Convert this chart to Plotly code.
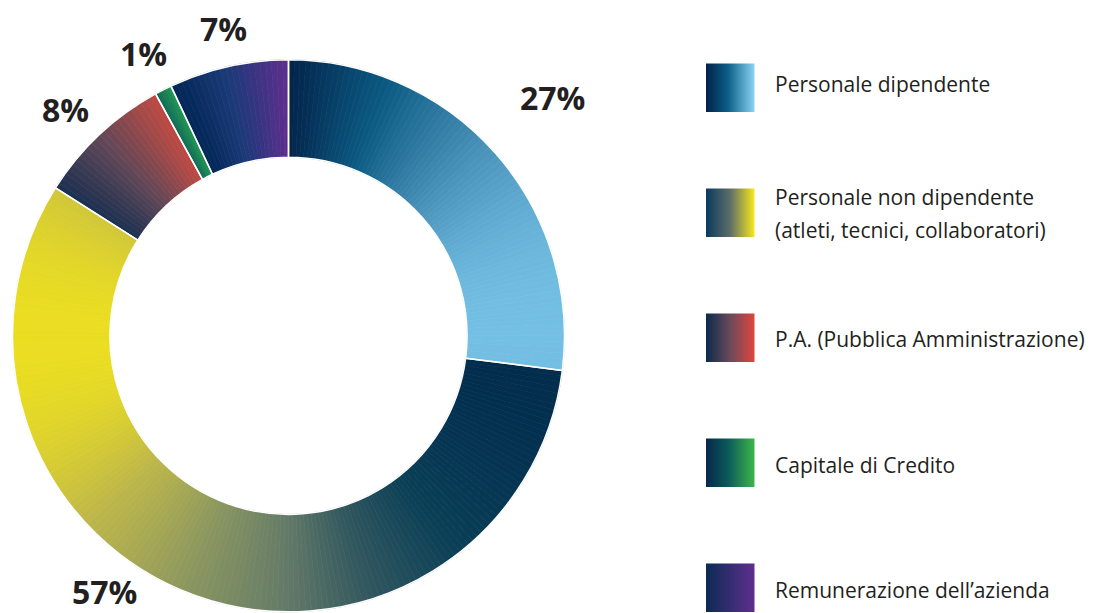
import math
import plotly.graph_objects as go

# ---------------- data ----------------
categories = [
    "Personale dipendente",
    "Personale non dipendente (atleti, tecnici, collaboratori)",
    "P.A. (Pubblica Amministrazione)",
    "Capitale di Credito",
    "Remunerazione dell’azienda",
]
legend_lines = [
    ["Personale dipendente"],
    ["Personale non dipendente", "(atleti, tecnici, collaboratori)"],
    ["P.A. (Pubblica Amministrazione)"],
    ["Capitale di Credito"],
    ["Remunerazione dell’azienda"],
]
values = [27, 57, 8, 1, 7]
pct_labels = ["27%", "57%", "8%", "1%", "7%"]

# ---------------- styles ----------------
ring_scales = [
    [(0, "#03234a"), (0.3, "#0b5a82"), (0.6, "#4a93bb"), (0.88, "#7ecbee"), (1, "#8ed8f6")],
    [(0, "#fff200"), (0.09, "#eadd22"), (0.2, "#bdb64a"), (0.35, "#8a9660"),
     (0.5, "#637a68"), (0.62, "#33585f"), (0.76, "#0a3f56"), (0.89, "#033050"), (1, "#02213f")],
    [(0, "#032a4e"), (0.2, "#03284d"), (0.5, "#5c4658"), (0.75, "#a84a48"), (1, "#e8443a")],
    [(0, "#03284d"), (0.3, "#054a58"), (0.65, "#1f9a50"), (1, "#3db64a")],
    [(0, "#032550"), (0.25, "#06295c"), (0.55, "#1b3a78"), (1, "#5e2f8e")],
]
legend_scales = [
    [(0, "#01214a"), (0.45, "#0b5f88"), (1, "#8ad4f3")],
    [(0, "#0a3a5f"), (0.5, "#5e6e68"), (1, "#f7e81c")],
    [(0, "#0b2a4c"), (0.5, "#6b4a5a"), (1, "#e0453d")],
    [(0, "#06284a"), (0.45, "#0b5a5a"), (1, "#3db54a")],
    [(0, "#0b2a55"), (1, "#5f2f8e")],
]
TEXT = "#231f20"
FONT = "Open Sans"

W, H = 1095, 613
OFF = 8  # page body margin: figure origin sits 8px inside the window
cx, cy, R = 288.5 - OFF, 335.8 - OFF, 276.0
hole = 0.647


def hex2rgb(h):
    h = h.lstrip("#")
    return tuple(int(h[i:i + 2], 16) for i in (0, 2, 4))


def interp(scale, t):
    t = min(max(t, 0.0), 1.0)
    for (p0, c0), (p1, c1) in zip(scale[:-1], scale[1:]):
        if p0 <= t <= p1:
            f = 0 if p1 == p0 else (t - p0) / (p1 - p0)
            a, b = hex2rgb(c0), hex2rgb(c1)
            return "rgb(%d,%d,%d)" % tuple(round(a[i] + (b[i] - a[i]) * f) for i in range(3))
    return "rgb(%d,%d,%d)" % hex2rgb(scale[-1][1])


# gradient approximation: split each slice into thin sub-slices whose colour
# follows a horizontal gradient across the slice's bounding box
total = sum(values)
rm = (1 + hole) / 2
sub_vals, sub_cols, sub_labels = [], [], []
cum = 0
for i, (v, scale) in enumerate(zip(values, ring_scales)):
    a0 = cum / total * 2 * math.pi
    a1 = (cum + v) / total * 2 * math.pi
    xs = []
    for k in range(301):
        a = a0 + (a1 - a0) * k / 300
        for r in (hole, 1.0):
            xs.append(r * math.sin(a))
    xmin, xmax = min(xs), max(xs)
    n = max(14, int(round(v * 3)))
    for j in range(n):
        am = a0 + (a1 - a0) * (j + 0.5) / n
        t = (rm * math.sin(am) - xmin) / (xmax - xmin)
        sub_vals.append(v / n)
        sub_cols.append(interp(scale, t))
        sub_labels.append("s%d_%d" % (i, j))
    cum += v

domain = dict(x=[(cx - R) / W, (cx + R) / W], y=[(H - cy - R) / H, (H - cy + R) / H])

fig = go.Figure()
fig.add_trace(go.Pie(
    labels=sub_labels, values=sub_vals, sort=False, direction="clockwise", rotation=0,
    hole=hole, domain=domain, textinfo="none", hoverinfo="skip", showlegend=False,
    marker=dict(colors=sub_cols, line=dict(color=sub_cols, width=0.7)),
))
fig.add_trace(go.Pie(
    labels=categories, values=values, sort=False, direction="clockwise", rotation=0,
    hole=hole, domain=domain, textinfo="none", showlegend=False,
    marker=dict(colors=["rgba(0,0,0,0)"] * len(values), line=dict(color="white", width=1.5)),
))

# legend swatches (gradient rectangles)
sw_x0, sw_size = 706 - OFF, 48.5
sw_tops = [t - OFF for t in (63.5, 188.5, 313.5, 438.5, 563.5)]
for top, scale in zip(sw_tops, legend_scales):
    fig.add_trace(go.Scatter(
        x=[sw_x0, sw_x0 + sw_size, sw_x0 + sw_size, sw_x0, sw_x0],
        y=[top, top, top + sw_size, top + sw_size, top],
        mode="lines", fill="toself", line=dict(width=0),
        fillgradient=dict(type="horizontal", colorscale=[[p, c] for p, c in scale]),
        hoverinfo="skip", showlegend=False, xaxis="x", yaxis="y",
    ))

annotations = []
# legend texts
legend_text_y = [[84], [197, 229.5], [338.5], [465], [590]]
for lines, ys in zip(legend_lines, legend_text_y):
    for txt, yy in zip(lines, ys):
        annotations.append(dict(
            x=773 - OFF, y=yy - OFF, xref="x", yref="y", text=txt, showarrow=False,
            xanchor="left", yanchor="middle",
            font=dict(family=FONT, size=21, color=TEXT),
        ))

# percentage labels
label_pos = [(552, 97), (104, 591), (65, 109), (143, 53), (223, 28)]
for txt, (lx, ly) in zip(pct_labels, label_pos):
    annotations.append(dict(
        x=lx - OFF, y=ly - OFF, xref="x", yref="y", text=txt, showarrow=False,
        xanchor="center", yanchor="middle",
        font=dict(family=FONT, size=32, color=TEXT, weight=700),
    ))

fig.update_layout(
    width=W, height=H, autosize=False,
    margin=dict(l=0, r=0, t=0, b=0),
    paper_bgcolor="white", plot_bgcolor="white",
    xaxis=dict(range=[0, W], visible=False, domain=[0, 1], fixedrange=True),
    yaxis=dict(range=[H, 0], visible=False, domain=[0, 1], fixedrange=True),
    annotations=annotations,
    showlegend=False,
)

fig.write_html("out.html")
